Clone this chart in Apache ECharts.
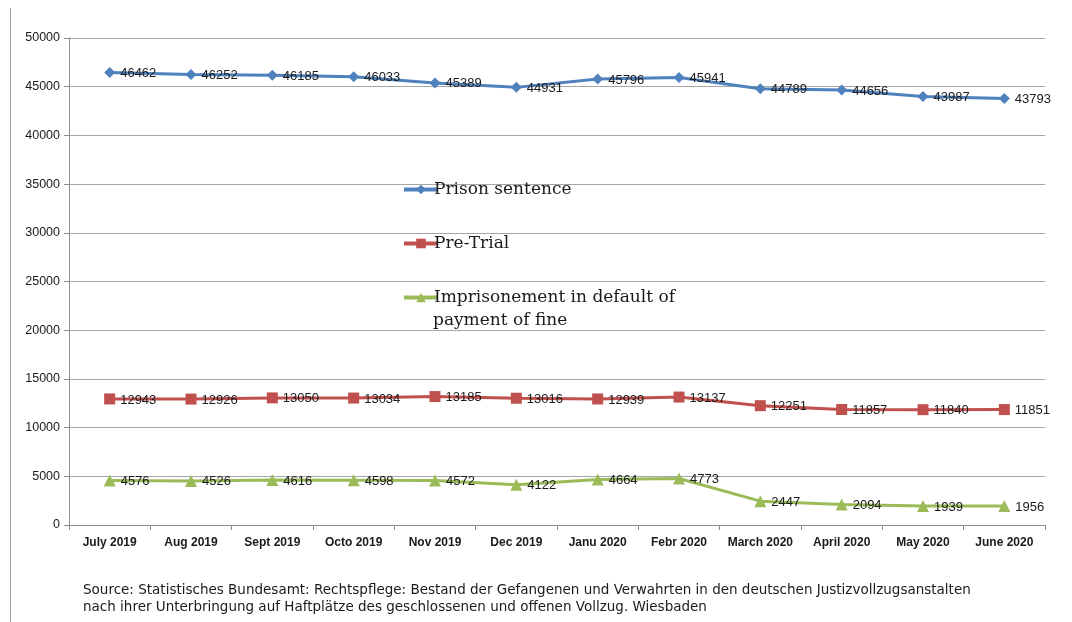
<!DOCTYPE html>
<html>
<head>
<meta charset="utf-8">
<script src="https://cdn.jsdelivr.net/npm/echarts@6/dist/echarts.min.js"></script>
<style>
  html, body { margin: 0; padding: 0; background: #fff; }
  #main { width: 1072px; height: 622px; }
</style>
</head>
<body>
<div id="main"></div>
<script>
// months on the x axis
var months = ['July 2019', 'Aug 2019', 'Sept 2019', 'Octo 2019', 'Nov 2019', 'Dec 2019',
  'Janu 2020', 'Febr 2020', 'March 2020', 'April 2020', 'May 2020', 'June 2020'];

var prison = [46462, 46252, 46185, 46033, 45389, 44931, 45796, 45941, 44789, 44656, 43987, 43793];
var preTrial = [12943, 12926, 13050, 13034, 13185, 13016, 12939, 13137, 12251, 11857, 11840, 11851];
var fineDefault = [4576, 4526, 4616, 4598, 4572, 4122, 4664, 4773, 2447, 2094, 1939, 1956];

var names = ['Prison sentence', 'Pre-Trial', 'Imprisonement in default of payment of fine'];

var labelStyle = {
  show: true,
  position: 'right',
  distance: 5,
  offset: [0, 1],
  color: '#1a1a1a',
  fontSize: 13,
  fontFamily: 'Liberation Sans'
};

function mkSeries(name, data, color, symbol, size) {
  return {
    name: name,
    type: 'line',
    data: data,
    symbol: symbol,
    symbolSize: size,
    lineStyle: { color: color, width: 3 },
    itemStyle: { color: color },
    label: labelStyle,
    animation: false
  };
}

var chart = echarts.init(document.getElementById('main'));
chart.setOption({
  backgroundColor: '#fff',
  grid: { left: 69, right: 27, top: 38, bottom: 97 },
  xAxis: {
    type: 'category',
    data: months,
    boundaryGap: true,
    axisLine: { lineStyle: { color: '#8c8c8c' } },
    axisTick: { show: true, interval: 0, length: 5, lineStyle: { color: '#8c8c8c' } },
    axisLabel: { interval: 0, color: '#1a1a1a', fontSize: 12, fontWeight: 'bold', fontFamily: 'Liberation Sans', margin: 12 }
  },
  yAxis: {
    type: 'value',
    min: 0,
    max: 50000,
    interval: 5000,
    axisLine: { show: true, lineStyle: { color: '#8c8c8c' } },
    axisTick: { show: true, length: 5, lineStyle: { color: '#8c8c8c' } },
    axisLabel: {
      color: '#1a1a1a', fontSize: 12.5, fontFamily: 'Liberation Sans', margin: 9,
      formatter: function (v) { return String(v); }
    },
    splitLine: { lineStyle: { color: '#a6a6a6' } }
  },
  legend: {
    orient: 'vertical',
    left: 397,
    top: 176,
    itemWidth: 34,
    itemHeight: 12,
    itemGap: 37,
    data: names,
    lineStyle: { width: 4 },
    formatter: function (n) {
      return n === names[2] ? 'Imprisonement in default of' : n;
    },
    textStyle: { fontFamily: 'DejaVu Serif', fontSize: 17, color: '#1a1a1a', padding: [0, 0, 0, -9] }
  },
  graphic: [
    { type: 'line', shape: { x1: 10.5, y1: 8, x2: 10.5, y2: 622 }, style: { stroke: '#a0a0a0', lineWidth: 1 } },
    { type: 'text', left: 433, top: 312, style: { text: 'payment of fine', font: '17px "DejaVu Serif"', fill: '#1a1a1a' } },
    { type: 'text', left: 83, top: 583, style: { text: 'Source: Statistisches Bundesamt: Rechtspflege: Bestand der Gefangenen und Verwahrten in den deutschen Justizvollzugsanstalten', font: '13.5px "DejaVu Sans"', fill: '#1a1a1a' } },
    { type: 'text', left: 83, top: 600, style: { text: 'nach ihrer Unterbringung auf Haftplätze des geschlossenen und offenen Vollzug. Wiesbaden', font: '13.5px "DejaVu Sans"', fill: '#1a1a1a' } }
  ],
  series: [
    mkSeries(names[0], prison, '#4f81bd', 'diamond', 11),
    mkSeries(names[1], preTrial, '#c0504d', 'rect', 11),
    mkSeries(names[2], fineDefault, '#9bbb59', 'triangle', 12)
  ]
});
</script>
</body>
</html>
